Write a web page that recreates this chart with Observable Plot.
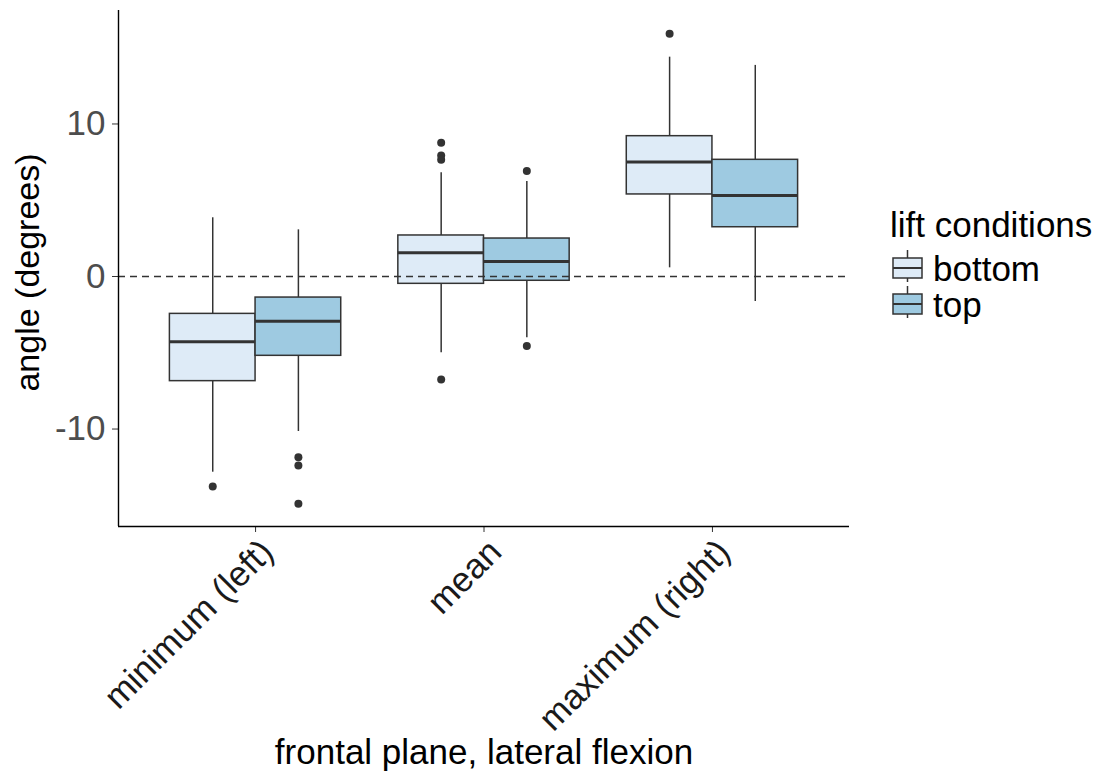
<!DOCTYPE html>
<html>
<head>
<meta charset="utf-8">
<script src="https://cdn.jsdelivr.net/npm/d3@7"></script>
<script src="https://cdn.jsdelivr.net/npm/@observablehq/plot@0.6"></script>
<style>
  html, body { margin: 0; padding: 0; background: #fff; }
  #wrap { position: relative; width: 1095px; height: 775px; font-family: "Liberation Sans", Arial, sans-serif; }
  #chart svg [aria-label^="y-axis"] text { fill: #4d4d4d; font-size: 35px; }
  #legend { position: absolute; left: 880px; top: 195px; }
</style>
</head>
<body>
<div id="wrap">
  <div id="chart"></div>
  <svg id="legend" width="215" height="135"></svg>
</div>
<script>
// ---- data ----
const categories = ["minimum (left)", "mean", "maximum (right)"];
const groups = ["bottom", "top"];
const groupColors = ["#deebf7", "#9ecae1"];
const yTicks = [-10, 0, 10];
const xTitle = "frontal plane, lateral flexion";
const yTitle = "angle (degrees)";
const legendTitle = "lift conditions";

const boxCategory = ["minimum (left)", "minimum (left)", "mean", "mean", "maximum (right)", "maximum (right)"];
const boxGroup    = ["bottom", "top", "bottom", "top", "bottom", "top"];
const whiskerLow  = [-12.83, -10.16, -5.00, -4.02, 0.57, -1.64];
const q1          = [-6.86, -5.20, -0.48, -0.28, 5.38, 3.23];
const median      = [-4.28, -2.93, 1.55, 0.98, 7.50, 5.31];
const q3          = [-2.45, -1.38, 2.69, 2.49, 9.20, 7.65];
const whiskerHigh = [3.85, 3.06, 6.80, 6.23, 14.38, 13.84];

const outlierCategory = ["minimum (left)", "minimum (left)", "minimum (left)", "minimum (left)",
                         "mean", "mean", "mean", "mean", "mean", "mean", "maximum (right)"];
const outlierGroup    = ["bottom", "top", "top", "top",
                         "bottom", "bottom", "bottom", "bottom", "top", "top", "bottom"];
const outlierValue    = [-13.77, -11.85, -12.39, -14.90,
                         8.77, 7.93, 7.65, -6.75, 6.91, -4.55, 15.91];

// ---- build tables ----
const dodge = 0.375; // width of each box in category units
const center = (c, g) => categories.indexOf(c) + 1 + (g === groups[0] ? -dodge / 2 : dodge / 2);
const boxes = boxCategory.map((c, i) => ({
  category: c, group: boxGroup[i], x: center(c, boxGroup[i]),
  x1: center(c, boxGroup[i]) - dodge / 2, x2: center(c, boxGroup[i]) + dodge / 2,
  lo: whiskerLow[i], q1: q1[i], med: median[i], q3: q3[i], hi: whiskerHigh[i]
}));
const outliers = outlierValue.map((v, i) => ({
  x: center(outlierCategory[i], outlierGroup[i]), y: v, group: outlierGroup[i]
}));
const catTicks = categories.map((c, i) => ({ x: i + 1, label: c }));

const yDomain = [-16.39, 17.44];
const xDomain = [0.4, categories.length + 0.6];
const ink = "#333333";

const chart = Plot.plot({
  width: 1095,
  height: 775,
  marginLeft: 118,
  marginRight: 246,
  marginTop: 10,
  marginBottom: 249,
  style: { fontFamily: "'Liberation Sans', Arial, sans-serif", fontSize: "34px", color: ink, background: "#fff" },
  x: { type: "linear", domain: xDomain, ticks: catTicks.map(d => d.x), tickFormat: () => "",
       tickSize: 6, label: null },
  y: { domain: yDomain, ticks: yTicks, tickFormat: d => String(d), tickSize: 6, tickPadding: 7, label: null },
  color: { domain: groups, range: groupColors },
  marks: [
    Plot.ruleX(boxes, { x: "x", y1: "lo", y2: "q1", stroke: ink, strokeWidth: 1.5 }),
    Plot.ruleX(boxes, { x: "x", y1: "q3", y2: "hi", stroke: ink, strokeWidth: 1.5 }),
    Plot.rect(boxes, { x1: "x1", x2: "x2", y1: "q1", y2: "q3", fill: "group", stroke: ink, strokeWidth: 1.5 }),
    Plot.ruleY(boxes, { x1: "x1", x2: "x2", y: "med", stroke: ink, strokeWidth: 3 }),
    Plot.dot(outliers, { x: "x", y: "y", r: 4, fill: ink, stroke: "none" }),
    Plot.ruleY([0], { stroke: ink, strokeWidth: 1.5, strokeDasharray: "7,5" }),
    Plot.ruleX([xDomain[0]], { stroke: "#000", strokeWidth: 1.4 }),
    Plot.ruleY([yDomain[0]], { stroke: "#000", strokeWidth: 1.4 }),
    Plot.text(catTicks, { x: "x", text: "label", frameAnchor: "bottom", rotate: -45, textAnchor: "end",
                          lineAnchor: "top", dx: 2, dy: 10, fill: "#1a1a1a", fontSize: 35 }),
    Plot.text([xTitle], { frameAnchor: "bottom", dy: 237, fill: "#000", fontSize: 35, textAnchor: "middle" }),
    Plot.text([yTitle], { frameAnchor: "left", dx: -90, dy: 4, rotate: -90, fill: "#000", fontSize: 34, textAnchor: "middle" })
  ]
});
document.getElementById("chart").appendChild(chart);

// ---- legend ----
const lg = d3.select("#legend");
lg.append("text").attr("x", 10).attr("y", 42).attr("font-size", 35).attr("fill", "#000").text(legendTitle);
groups.forEach((g, i) => {
  const top = 63 + i * 36;
  const k = lg.append("g");
  k.append("line").attr("x1", 27.5).attr("x2", 27.5).attr("y1", top - 8).attr("y2", top + 24).attr("stroke", ink).attr("stroke-width", 1.5);
  k.append("rect").attr("x", 13).attr("y", top).attr("width", 29).attr("height", 20)
    .attr("fill", groupColors[i]).attr("stroke", ink).attr("stroke-width", 1.5);
  k.append("line").attr("x1", 13).attr("x2", 42).attr("y1", top + 10).attr("y2", top + 10).attr("stroke", ink).attr("stroke-width", 2);
  lg.append("text").attr("x", 53).attr("y", top + 23).attr("font-size", 35).attr("fill", "#000").text(g);
});
</script>
</body>
</html>
